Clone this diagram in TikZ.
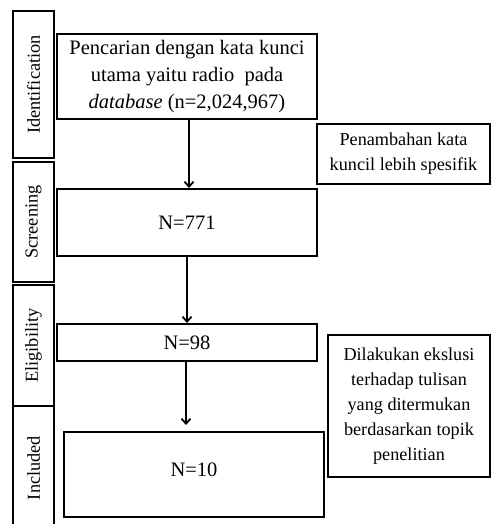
\documentclass[tikz,border=0pt]{standalone}
\usepackage{fontspec}
\setmainfont{Liberation Serif}
\usepackage{tikz}
\usetikzlibrary{arrows.meta,calc,positioning}

\begin{document}
\begin{tikzpicture}[>={Straight Barb[length=5pt,width=9pt]},x=1pt,y=-1pt]
\tikzstyle{stagebox}=[rectangle,draw=black,line width=2pt,minimum width=41pt,inner sep=0pt]
\tikzstyle{stagetext}=[rotate=90,font=\fontsize{18.3}{20}\selectfont]
\tikzstyle{flowbox}=[rectangle,draw=black,line width=2pt,minimum width=260pt,align=center,
                     inner sep=0pt,font=\fontsize{20.5}{27}\selectfont]
\tikzstyle{notebox}=[rectangle,draw=black,line width=2pt,align=center,inner sep=0pt,
                     font=\fontsize{18.2}{25}\selectfont]
\tikzstyle{arrow}=[->,line width=1.8pt,black]

\useasboundingbox (0,0) rectangle (491,524);

% --- stages on the left ---
\node[stagebox,minimum height=147pt] (ident) at (33.5,84.5) {};
\node[stagetext] at (ident) {Identification};
\node[stagebox,minimum height=120pt] (screen) at (33.5,222) {};
\node[stagetext] at (screen) {Screening};
\node[stagebox,minimum height=121pt] (elig) at (33.5,345.5) {};
\node[stagetext] at (elig) {Eligibility};
\node[stagebox,minimum height=124pt] (incl) at (33.5,468) {};
\node[stagetext] at (incl) {Included};

% --- main flow ---
\node[flowbox,minimum height=85pt] (search) at (187,76.5) {
Pencarian dengan kata kunci\\
utama yaitu radio~ pada\\
\textit{database} (n=2,024,967)};
\node[flowbox,minimum height=67pt] (n771) at (187,222.5) {N=771};
\node[flowbox,minimum height=37pt] (n98) at (187,342.5) {N=98};
\node[flowbox,minimum height=85pt] (n10) at (194,474.5) {\raisebox{9pt}{N=10}};

% --- notes on the right ---
\node[notebox,minimum width=173pt,minimum height=60pt] (specific) at (403.5,154) {
Penambahan kata\\ kuncil lebih spesifik};
\node[notebox,minimum width=162pt,minimum height=142pt] (exclude) at (409,406) {
Dilakukan ekslusi\\ terhadap tulisan\\ yang ditermukan\\ berdasarkan topik\\ penelitian};

% --- Arrows ---
\draw[arrow] ([xshift=2pt]search.south) -- ([xshift=2pt]search.south |- n771.north);
\draw[arrow] (n771.south) -- (n98.north);
\draw[arrow,shorten >=6pt] ([xshift=-1pt]n98.south) -- ([xshift=-1pt]n98.south |- n10.north);

\end{tikzpicture}
\end{document}
